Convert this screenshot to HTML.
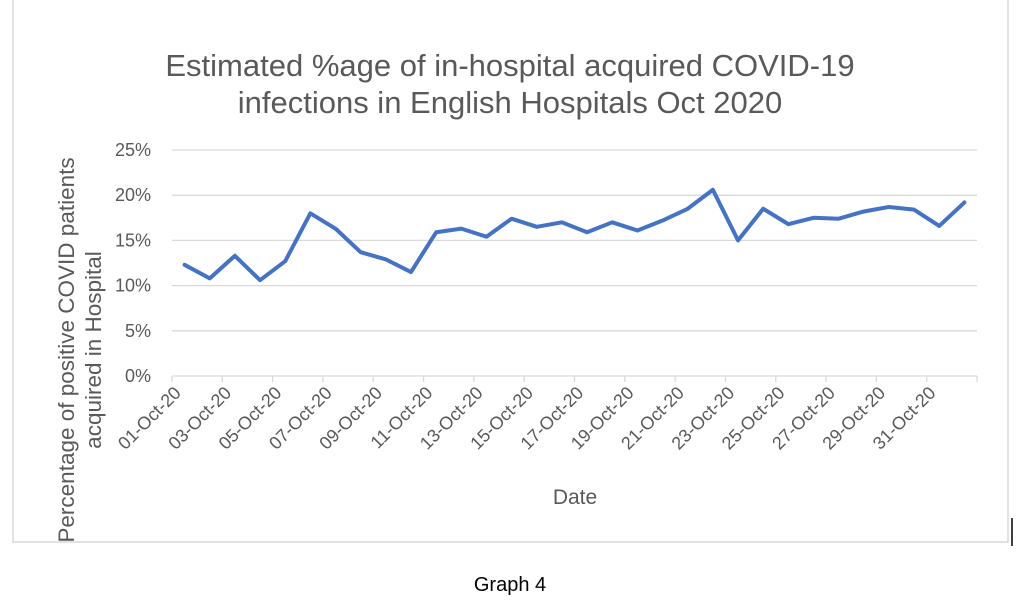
<!DOCTYPE html>
<html><head><meta charset="utf-8"><style>
body{margin:0;background:#fff;width:1024px;height:611px;overflow:hidden;font-family:"Liberation Sans",sans-serif}
</style></head><body>
<svg width="1024" height="611" style="position:absolute;left:0;top:0">
<rect x="13" y="-2" width="995" height="544" fill="#fff" stroke="#d9d9d9" stroke-width="1.5"/>
<line x1="1012" y1="518" x2="1012" y2="546" stroke="#000" stroke-width="1.5"/>
<text x="510" y="76" text-anchor="middle" font-size="31" fill="#595959">Estimated %age of in-hospital acquired COVID-19</text>
<text x="510" y="113" text-anchor="middle" font-size="31" fill="#595959">infections in English Hospitals Oct 2020</text>
<g id="grid"></g><g id="xax"></g><g id="plot"></g>
<text transform="translate(74,350) rotate(-90)" text-anchor="middle" font-size="22.5" fill="#595959">Percentage of positive COVID patients</text>
<text transform="translate(101,350) rotate(-90)" text-anchor="middle" font-size="22.5" fill="#595959">acquired in Hospital</text>
<text x="575" y="504" text-anchor="middle" font-size="21" fill="#595959">Date</text>
<text x="510" y="591" text-anchor="middle" font-size="20" fill="#000">Graph 4</text>
</svg>
<script>
const dates=["01-Oct-20","02-Oct-20","03-Oct-20","04-Oct-20","05-Oct-20","06-Oct-20","07-Oct-20","08-Oct-20","09-Oct-20","10-Oct-20","11-Oct-20","12-Oct-20","13-Oct-20","14-Oct-20","15-Oct-20","16-Oct-20","17-Oct-20","18-Oct-20","19-Oct-20","20-Oct-20","21-Oct-20","22-Oct-20","23-Oct-20","24-Oct-20","25-Oct-20","26-Oct-20","27-Oct-20","28-Oct-20","29-Oct-20","30-Oct-20","31-Oct-20","01-Nov-20"];
const values=[12.3,10.8,13.3,10.6,12.7,18.0,16.3,13.7,12.9,11.5,15.9,16.3,15.4,17.4,16.5,17.0,15.9,17.0,16.1,17.2,18.5,20.6,15.0,18.5,16.8,17.5,17.4,18.2,18.7,18.4,16.6,19.2];
const yTicks=[0,5,10,15,20,25];
const NS="http://www.w3.org/2000/svg";
const X0=172,X1=977,Y0=376,Y1=150,YMAX=25;
const bw=(X1-X0)/dates.length;
const xs=i=>X0+bw*(i+0.5);
const ys=v=>Y0-(v/YMAX)*(Y0-Y1);
function mk(t,a,p){const e=document.createElementNS(NS,t);for(const k in a)e.setAttribute(k,a[k]);p.appendChild(e);return e;}
const grid=document.getElementById('grid'),xax=document.getElementById('xax'),plot=document.getElementById('plot');
yTicks.forEach(v=>{
 if(v>0){const l=mk('line',{x1:X0,x2:X1,y1:ys(v),y2:ys(v),stroke:'#d9d9d9','stroke-width':1.3},grid);
 
 }
 const t=mk('text',{x:151,y:ys(v)+6,'text-anchor':'end','font-size':18,fill:'#595959'},grid);t.textContent=v+'%';
 
 
});
const ax=mk('line',{x1:X0,x2:X1,y1:Y0,y2:Y0,stroke:'#d9d9d9','stroke-width':1.3},xax);


for(let i=0;i<=dates.length;i+=2){
 const x=X0+bw*i;
 const tk=mk('line',{x1:x,x2:x,y1:Y0,y2:Y0+6,stroke:'#d9d9d9','stroke-width':1.3},xax);
 
 
 if(i<dates.length){
  const t=mk('text',{transform:`translate(${x+10},${Y0+18}) rotate(-45)`,'text-anchor':'end','font-size':18,fill:'#595959'},xax);
  t.textContent=dates[i];
  
  
 }
}
const pl=mk('polyline',{points:values.map((v,i)=>xs(i)+','+ys(v)).join(' '),fill:'none',stroke:'#4472c4','stroke-width':4,'stroke-linejoin':'round','stroke-linecap':'round'},plot);


</script>
</body></html>
